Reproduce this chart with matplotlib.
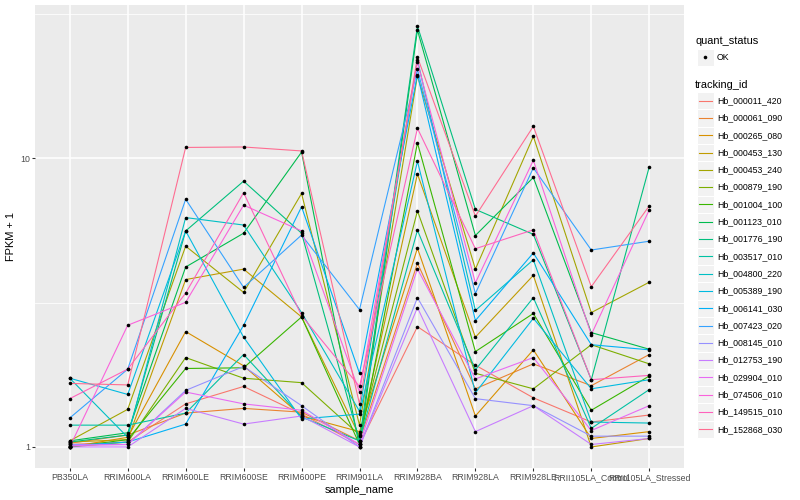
import numpy as np
import matplotlib
matplotlib.use("Agg")
import matplotlib.pyplot as plt
from matplotlib.patches import Rectangle
from matplotlib.lines import Line2D

plt.rcParams['font.family'] = ['Liberation Sans', 'DejaVu Sans']

samples = ["PB350LA", "RRIM600LA", "RRIM600LE", "RRIM600SE", "RRIM600PE",
           "RRIM901LA", "RRIM928BA", "RRIM928LA", "RRIM928LE",
           "RRII105LA_Control", "RRII105LA_Stressed"]

tracking_ids = ["Hb_000011_420", "Hb_000061_090", "Hb_000265_080", "Hb_000453_130",
                "Hb_000453_240", "Hb_000879_190", "Hb_001004_100", "Hb_001123_010",
                "Hb_001776_190", "Hb_003517_010", "Hb_004800_220", "Hb_005389_190",
                "Hb_006141_030", "Hb_007423_020", "Hb_008145_010", "Hb_012753_190",
                "Hb_029904_010", "Hb_074506_010", "Hb_149515_010", "Hb_152868_030"]

colors = ["#F8766D", "#EA8331", "#D89000", "#C09B00", "#A3A500", "#7CAE00", "#39B600",
          "#00BB4E", "#00BF7D", "#00C1A3", "#00BFC4", "#00BAE0", "#00B0F6", "#35A2FF",
          "#9590FF", "#C77CFF", "#E76BF3", "#FA62DB", "#FF62BC", "#FF6C91"]

# FPKM + 1 per sample (order of `samples`)
hb_000011_420 = [1.02, 1.04, 1.41, 1.62, 1.30, 1.02, 2.61, 1.92, 1.48, 1.22, 1.29]
hb_000061_090 = [1.03, 1.10, 1.31, 1.36, 1.32, 1.05, 4.33, 1.59, 1.94, 1.63, 2.09]
hb_000265_080 = [1.00, 1.08, 2.51, 1.91, 1.28, 1.13, 4.88, 1.28, 2.17, 1.07, 1.13]
hb_000453_130 = [1.04, 1.06, 3.80, 4.13, 2.82, 1.09, 8.82, 2.40, 3.93, 1.00, 1.07]
hb_000453_240 = [1.05, 1.35, 4.96, 3.43, 7.55, 1.19, 19.3, 4.13, 11.9, 2.92, 3.72]
hb_000879_190 = [1.00, 1.04, 2.04, 1.73, 1.67, 1.10, 6.57, 1.80, 1.59, 2.26, 1.94]
hb_001004_100 = [1.00, 1.06, 1.87, 1.88, 2.82, 1.02, 11.3, 2.14, 2.90, 1.34, 1.76]
hb_001123_010 = [1.05, 1.12, 4.20, 5.50, 10.5, 1.00, 27.8, 5.40, 8.58, 2.49, 2.18]
hb_001776_190 = [1.04, 1.10, 5.60, 8.33, 5.50, 1.05, 28.7, 6.65, 5.45, 1.71, 9.33]
hb_003517_010 = [1.19, 1.19, 1.31, 2.09, 1.27, 1.05, 5.63, 1.85, 3.29, 1.16, 1.58]
hb_004800_220 = [1.73, 1.08, 6.23, 5.87, 2.92, 1.33, 21.9, 2.97, 4.45, 1.22, 1.21]
hb_005389_190 = [1.73, 1.52, 5.60, 2.40, 1.25, 1.30, 9.76, 1.54, 2.79, 1.59, 1.71]
hb_006141_030 = [1.01, 1.04, 1.20, 2.64, 6.79, 1.80, 19.5, 2.74, 4.70, 2.26, 2.17]
hb_007423_020 = [1.26, 1.86, 7.21, 3.57, 5.42, 2.99, 20.3, 3.40, 9.26, 4.81, 5.16]
hb_008145_010 = [1.02, 1.02, 1.57, 1.90, 1.39, 1.00, 3.29, 1.47, 1.39, 1.09, 1.09]
hb_012753_190 = [1.00, 1.00, 1.36, 1.20, 1.28, 1.00, 3.04, 1.13, 1.39, 1.02, 1.07]
hb_029904_010 = [1.01, 1.02, 1.55, 1.41, 1.34, 1.02, 4.14, 1.72, 2.04, 1.14, 1.39]
hb_074506_010 = [1.00, 2.64, 3.17, 6.88, 5.60, 1.55, 21.5, 3.70, 9.84, 2.45, 6.62]
hb_149515_010 = [1.47, 1.86, 3.41, 7.60, 2.85, 1.62, 12.7, 4.86, 5.65, 1.71, 1.77]
hb_152868_030 = [1.66, 1.64, 10.9, 10.94, 10.6, 1.41, 22.4, 6.30, 12.9, 3.59, 6.84]

series = [hb_000011_420, hb_000061_090, hb_000265_080, hb_000453_130, hb_000453_240,
          hb_000879_190, hb_001004_100, hb_001123_010, hb_001776_190, hb_003517_010,
          hb_004800_220, hb_005389_190, hb_006141_030, hb_007423_020, hb_008145_010,
          hb_012753_190, hb_029904_010, hb_074506_010, hb_149515_010, hb_152868_030]

W, H = 800, 500
fig = plt.figure(figsize=(W / 72, H / 72), dpi=72)
fig.patch.set_facecolor("white")

L, R, T, B = 35, 684, 5, 468
ax = fig.add_axes([L / W, 1 - B / H, (R - L) / W, (B - T) / H])
ax.set_facecolor("#EBEBEB")
for s in ax.spines.values():
    s.set_visible(False)

x = np.arange(len(samples))
ax.set_yscale("log")
allv = np.array(series)
lo, hi = np.log10(allv.min()), np.log10(allv.max())
pad = 0.05 * (hi - lo)
ax.set_ylim(10 ** (lo - pad), 10 ** (hi + pad))
ax.set_xlim(-0.6, len(samples) - 1 + 0.6)

ax.set_yticks([1, 10])
ax.set_yticklabels(["1", "10"])
ax.set_yticks([10 ** 0.5, 10 ** 1.5], minor=True)
ax.yaxis.set_minor_formatter(matplotlib.ticker.NullFormatter())
ax.set_xticks(x)
ax.set_xticklabels(samples)
ax.tick_params(axis="both", which="major", color="#333333", length=2.75, width=1.07,
               labelsize=8.8, labelcolor="#4D4D4D", pad=2.2)
ax.tick_params(axis="y", which="minor", length=0)
ax.grid(True, which="major", color="white", linewidth=1.5)
ax.grid(True, which="minor", axis="y", color="white", linewidth=0.75)
ax.set_axisbelow(True)

for vals, c in zip(series, colors):
    ax.plot(x, vals, color=c, linewidth=1.1, zorder=2)
for vals in series:
    ax.plot(x, vals, linestyle="none", marker="o", markersize=3.6,
            markerfacecolor="black", markeredgecolor="black", markeredgewidth=0, zorder=3)

ax.set_xlabel("sample_name", fontsize=11, color="black", labelpad=3)
ax.set_ylabel("FPKM + 1", fontsize=11, color="black", labelpad=4)

# legend drawn in pixel coordinates
lg = fig.add_axes([0, 0, 1, 1])
lg.set_xlim(0, W)
lg.set_ylim(H, 0)
lg.axis("off")

kx, kw = 696.5, 17.3
lg.text(695, 40.5, "quant_status", fontsize=11, va="center", ha="left")
lg.add_patch(Rectangle((kx, 48.5), kw, kw, facecolor="#F2F2F2", edgecolor="white", linewidth=1))
lg.plot([kx + kw / 2], [48.5 + kw / 2], marker="o", color="black", markersize=3.6, markeredgewidth=0)
lg.text(717, 57.2, "OK", fontsize=8.8, va="center", ha="left")

lg.text(695, 85, "tracking_id", fontsize=11, va="center", ha="left")
y0 = 92.0
for i, (name, c) in enumerate(zip(tracking_ids, colors)):
    yy = y0 + i * kw
    lg.add_patch(Rectangle((kx, yy), kw, kw, facecolor="#F2F2F2", edgecolor="white", linewidth=1))
    lg.add_line(Line2D([kx + 2, kx + kw - 2], [yy + kw / 2, yy + kw / 2], color=c, linewidth=1.1))
    lg.text(717, yy + kw / 2, name, fontsize=8.8, va="center", ha="left")

fig.savefig("out.png", dpi=72)
